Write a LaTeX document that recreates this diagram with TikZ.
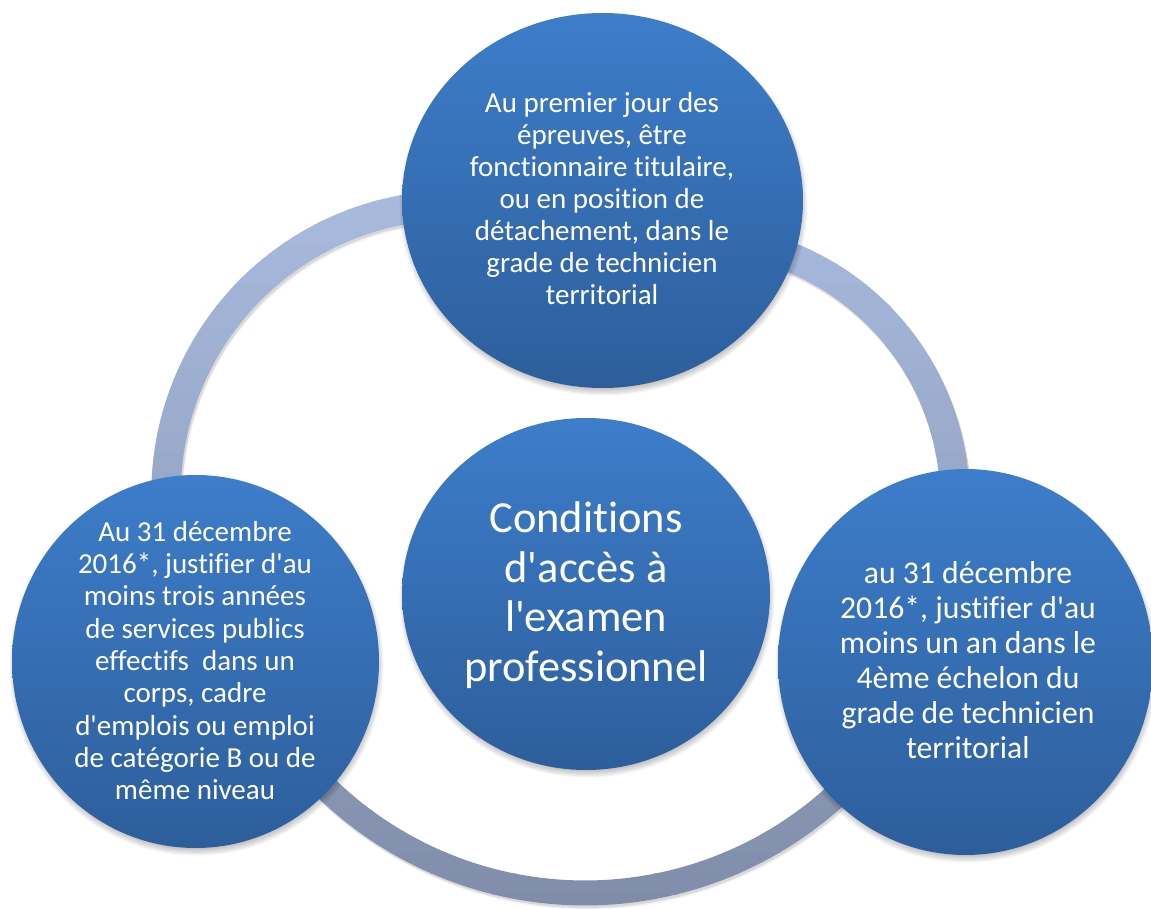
\documentclass[tikz,border=0pt]{standalone}
\usepackage{fontspec}
\setmainfont{Carlito}[Ligatures=NoCommon]
\usetikzlibrary{shapes.geometric}
\definecolor{bubtop}{RGB}{61,125,202}
\definecolor{bubbot}{RGB}{45,94,155}
\definecolor{ringtop}{RGB}{168,187,222}
\definecolor{ringbot}{RGB}{127,140,169}
\newcommand\ringarcs[1]{%
  \draw[#1, line width=29.5pt] plot[domain=150:300, samples=90] ({455+289*cos(\x)},{494+289*sin(\x)});
  \draw[#1, line width=29.5pt] plot[domain=240:390, samples=90] ({692+263*cos(\x)},{501+263*sin(\x)});
  \draw[#1, line width=25pt] plot[domain=20:160, samples=90] ({585+372*cos(\x)},{521+372*sin(\x)});
}
\newcommand\softshadow[4]{\foreach \k in {0,...,5}{\fill[black, opacity=0.045] (#1+1,#2+4) ellipse [x radius=#3-3+\k*1.3, y radius=#4-3+\k*1.3];}}
\begin{document}
\begin{tikzpicture}[x=1pt,y=-1pt,
  bub/.style={ellipse, draw=none, inner sep=0pt, outer sep=0pt, top color=bubtop, bottom color=bubbot},
  lbl/.style={text=white, align=center, inner sep=0pt}]
\useasboundingbox (0,0) rectangle (1151,909);
\clip (0,0) rectangle (1151,909);
% ring shadow
\ringarcs{color=black, opacity=0.05, shift={(2,4)}}
\ringarcs{color=black, opacity=0.10, shift={(1.5,2.5)}}
% ring with vertical gradient (banded)
\foreach \i in {0,...,35} {
  \pgfmathsetmacro\ya{180+\i*21}
  \pgfmathsetmacro\yb{\ya+21.6}
  \pgfmathtruncatemacro\pc{100-\i*100/35}
  \begin{scope}
    \clip (0,\ya) rectangle (1151,\yb);
    \ringarcs{color=ringtop!\pc!ringbot}
  \end{scope}
}
% shadows of circles
\softshadow{602.5}{200.5}{200.5}{187.5}
\softshadow{586}{594}{184}{176}
\softshadow{195.5}{661.5}{183.5}{186.5}
\softshadow{965.5}{662}{187.5}{193}
% circles
\node[bub, minimum width=401pt, minimum height=375pt] (T) at (602.5,200.5) {};
\node[bub, minimum width=368pt, minimum height=352pt] (C) at (586,594) {};
\node[bub, minimum width=367pt, minimum height=373pt] (L) at (195.5,661.5) {};
\node[bub, minimum width=375pt, minimum height=386pt] (R) at (965.5,662) {};
% texts
\node[lbl, font=\fontsize{29}{32}\selectfont] (Tt) at (602,199) {Au premier jour des\\épreuves, être\\fonctionnaire titulaire,\\ou en position de\\détachement, dans le\\grade de technicien\\territorial};
\node[lbl, font=\fontsize{44.4}{49.5}\selectfont] (Ct) at (586,595) {Conditions\\d\textquotesingle accès à\\l\textquotesingle examen\\professionnel};
\node[lbl, font=\fontsize{29}{32.3}\selectfont] (Lt) at (195,660.5) {Au 31 décembre\\2016*, justifier d\textquotesingle au\\moins trois années\\de services publics\\effectifs\ \ dans un\\corps, cadre\\d\textquotesingle emplois ou emploi\\de catégorie B ou de\\même niveau};
\node[lbl, font=\fontsize{31.7}{35}\selectfont] (Rt) at (968,660) {au 31 décembre\\2016*, justifier d\textquotesingle au\\moins un an dans le\\4ème échelon du\\grade de technicien\\territorial};
\end{tikzpicture}
\end{document}
